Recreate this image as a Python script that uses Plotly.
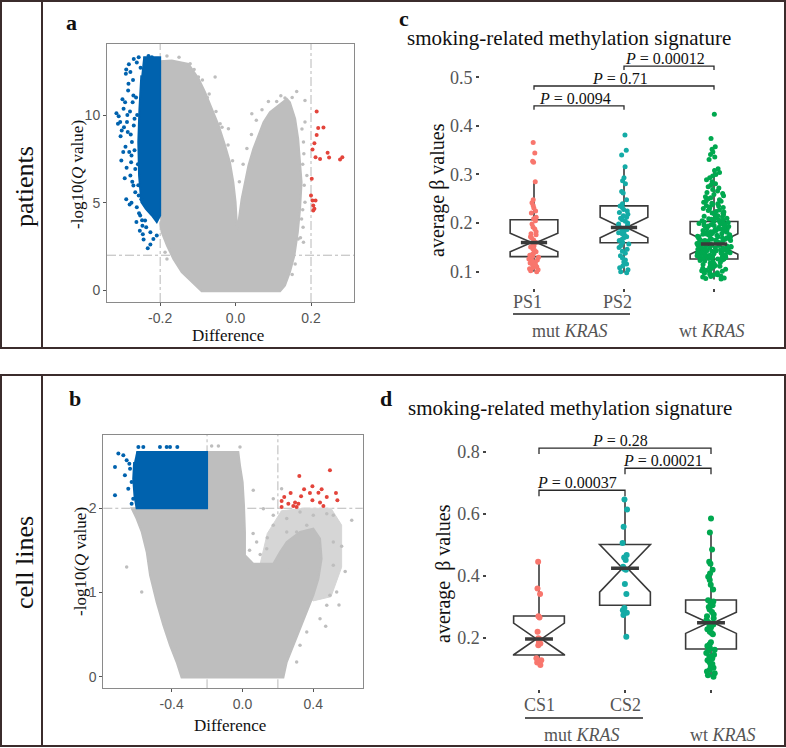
import plotly.graph_objects as go

W, H = 786, 748
def px(x): return x / W
def py(y): return 1 - y / H

SERIF = "Liberation Serif, Times New Roman, serif"
SANS = "Liberation Sans, Arial, sans-serif"

# ---------------- Panel a (patients volcano) ----------------
a_gray_cloud_x = [-0.2, -0.169, -0.125, -0.098, -0.081, -0.063, -0.045, -0.028, -0.015, -0.006, 0.0, 0.004,
                  0.0075, 0.016, 0.025, 0.034, 0.047, 0.060, 0.074, 0.091, 0.113, 0.136, 0.144, 0.158, 0.166,
                  0.171, 0.175, 0.171, 0.165, 0.156, 0.144, 0.131, 0.118, -0.090, -0.116, -0.143, -0.165,
                  -0.182, -0.196, -0.2]
a_gray_cloud_y = [13.07, 13.12, 12.93, 12.08, 11.31, 10.36, 9.41, 8.27, 7.31, 6.17, 5.03, 3.50,
                  3.88, 5.22, 6.17, 7.12, 8.08, 8.84, 9.60, 10.17, 10.55, 10.93, 10.74, 9.79, 8.65,
                  7.50, 6.17, 4.65, 3.31, 1.98, 1.03, 0.27, -0.05, -0.05, 0.46, 1.03, 1.79,
                  2.55, 3.31, 3.88]
a_gray_pts_x = [-0.182, -0.1205, -0.0985, -0.0543, -0.041, -0.019, 0.043, 0.162, 0.184, 0.087, 0.109,
                0.131, 0.184, 0.180, 0.158, -0.187, -0.182, 0.166, 0.175, 0.184, 0.189, 0.180,
                -0.150, -0.110, -0.075, 0.120, 0.150, 0.178, 0.179, 0.150,
                -0.088, -0.070, -0.052, -0.036, -0.020, -0.008, 0.010, 0.020, 0.030, 0.042, 0.055, 0.070,
                0.176, 0.181, 0.182, 0.178, 0.172, -0.125, -0.152, -0.172]
a_gray_pts_y = [13.37, 12.93, 12.17, 12.17, 9.50, 9.22, 10.08, 11.35, 10.84, 10.78, 10.78,
                10.97, 9.60, 2.74, 1.50, 2.17, 1.79, 2.93, 4.07, 5.03, 6.55, 8.46,
                13.3, 12.6, 11.0, 11.1, 11.0, 7.2, 3.6, 0.9,
                12.0, 11.2, 10.2, 9.3, 8.3, 7.4, 6.2, 7.2, 8.1, 8.9, 9.7, 10.3,
                9.2, 7.8, 6.0, 4.6, 3.0, 0.8, 1.6, 2.3]
a_blue_core_x = [-0.245, -0.2, -0.2, -0.209, -0.222, -0.238, -0.250, -0.256, -0.258, -0.255, -0.250]
a_blue_core_y = [13.31, 13.31, 4.27, 3.89, 4.27, 4.65, 5.03, 6.55, 8.46, 10.36, 12.27]
a_blue_pts_x = [-0.310, -0.302, -0.303, -0.284, -0.279, -0.257, -0.231, -0.222, -0.293, -0.288, -0.275,
                -0.282, -0.279, -0.271, -0.257, -0.262, -0.247, -0.226, -0.218, -0.226, -0.209, -0.297,
                -0.271, -0.268, -0.277, -0.266, -0.286, -0.273, -0.306, -0.291, -0.253, -0.240,
                -0.300, -0.296, -0.292, -0.289, -0.285, -0.283, -0.280, -0.278, -0.276, -0.274,
                -0.272, -0.270, -0.268, -0.266, -0.264, -0.262, -0.261, -0.259, -0.258, -0.256,
                -0.254, -0.252, -0.250, -0.248, -0.246, -0.244, -0.237, -0.233, -0.305, -0.298,
                -0.294, -0.290, -0.287, -0.281, -0.276, -0.263, -0.312, -0.316, -0.290, -0.270]
a_blue_pts_y = [9.94, 9.12, 7.41, 11.79, 12.46, 13.31, 13.37, 13.31, 10.74, 9.60, 8.46,
                7.89, 6.55, 5.98, 5.41, 4.74, 3.69, 3.31, 2.93, 2.61, 3.12, 10.36,
                11.12, 9.79, 7.31, 6.93, 9.03, 10.74, 9.60, 12.36, 4.27, 3.98,
                10.9, 9.3, 8.2, 7.0, 11.4, 12.9, 10.2, 8.9, 7.7, 6.2,
                12.0, 9.4, 8.0, 5.6, 11.0, 13.0, 10.0, 7.2, 6.0, 4.4,
                3.4, 12.7, 5.2, 4.0, 3.2, 2.9, 3.6, 2.4, 8.8, 7.9,
                6.4, 5.2, 10.0, 4.9, 5.0, 3.9, 9.5, 10.1, 12.6, 13.2]
a_red_x = [0.215, 0.219, 0.233, 0.215, 0.209, 0.204, 0.212, 0.224, 0.244, 0.248, 0.277, 0.283,
           0.202, 0.200, 0.204, 0.212, 0.206, 0.206, 0.209]
a_red_y = [10.21, 9.26, 9.29, 8.87, 8.40, 8.04, 7.60, 7.50, 7.85, 7.58, 7.47, 7.60,
           6.36, 5.41, 5.12, 5.12, 4.84, 4.55, 4.65]
a_xticks = [-0.2, 0.0, 0.2]
a_xticktext = ["-0.2", "0.0", "0.2"]
a_yticks = [0, 5, 10]

# ---------------- Panel b (cell lines volcano) ----------------
b_gray_cloud_x = [-0.2, -0.0234, -0.014, 0.001, 0.0086, 0.014, 0.014, 0.061, 0.174, 0.212, 0.250, 0.325,
                  0.400, 0.438, 0.447, 0.429, 0.400, 0.363, 0.325, 0.287, 0.250, 0.231, -0.344, -0.372,
                  -0.409, -0.447, -0.485, -0.522, -0.541, -0.569, -0.598, -0.626, -0.2]
b_gray_cloud_y = [2.668, 2.668, 2.510, 2.312, 2.035, 1.718, 1.441, 1.342, 1.342, 1.481, 1.600, 1.718,
                  1.758, 1.639, 1.402, 1.164, 0.966, 0.768, 0.570, 0.372, 0.174, -0.01, -0.01, 0.174,
                  0.372, 0.610, 0.887, 1.204, 1.481, 1.718, 1.877, 2.0, 2.0]
b_gray_sparse_x = [0.10, 0.14, 0.22, 0.35, 0.50, 0.56, 0.56, 0.50, 0.40, 0.20]
b_gray_sparse_y = [1.34, 1.70, 1.97, 2.0, 2.0, 1.80, 1.30, 0.95, 0.90, 1.20]
b_gray_pts_x = [-0.174, -0.136, -0.014, 0.061, 0.174, 0.118, 0.174, 0.250, 0.325, 0.400, 0.476, 0.513,
                0.617, 0.306, 0.080, 0.137, 0.513, 0.532, 0.494, 0.476, 0.250, -0.654, -0.569, 0.438,
                0.363, 0.325, 0.306, -0.372, -0.334, 0.221, 0.174, 0.250, 0.363, 0.513,
                0.040, 0.060, 0.100, 0.140, 0.560, 0.580, 0.545, 0.470]
b_gray_pts_y = [2.740, 2.740, 2.728, 2.213, 2.114, 1.995, 1.916, 1.877, 1.956, 1.916, 1.936, 1.916,
                1.857, 1.718, 1.600, 1.520, 1.322, 1.006, 0.966, 0.847, 1.283, 1.303, 1.006, 0.689,
                0.531, 0.372, 0.174, 0.333, 0.135, 2.233, 1.798, 1.718, 1.798, 1.600,
                1.50, 1.70, 1.45, 1.65, 1.55, 1.25, 0.85, 0.60]
b_blue_core_x = [-0.600, -0.2, -0.2, -0.598, -0.610, -0.617, -0.612]
b_blue_core_y = [2.668, 2.668, 2.0, 2.0, 2.15, 2.35, 2.55]
b_blue_pts_x = [-0.701, -0.720, -0.720, -0.673, -0.654, -0.635, -0.626, -0.645, -0.617, -0.626,
                -0.588, -0.560, -0.466, -0.428, -0.409, -0.368, -0.664, -0.639]
b_blue_pts_y = [2.649, 2.490, 2.154, 2.629, 2.569, 2.470, 2.312, 2.233, 2.114, 2.055,
                2.728, 2.728, 2.728, 2.728, 2.728, 2.728, 2.391, 2.530]
b_red_x = [0.494, 0.321, 0.395, 0.348, 0.447, 0.272, 0.381, 0.429, 0.528, 0.236, 0.331, 0.476,
           0.536, 0.221, 0.395, 0.297, 0.259, 0.316, 0.438, 0.221, 0.287, 0.306, 0.457]
b_red_y = [2.451, 2.383, 2.261, 2.225, 2.225, 2.181, 2.181, 2.185, 2.181, 2.134, 2.142, 2.134,
           2.094, 2.086, 2.094, 2.067, 2.055, 2.055, 2.067, 2.015, 2.027, 2.015, 2.027]
b_xticks = [-0.4, 0.0, 0.4]
b_xticktext = ["-0.4", "0.0", "0.4"]
b_yticks = [0, 1, 2]

diff_threshold = 0.2
q_threshold = 2

# ---------------- Panel c (patients boxplot) ----------------
c_groups = ["PS1", "PS2", "wt"]
c_pos = [1, 2, 3]
c_q1 = [0.131, 0.1596, 0.126]
c_median = [0.160, 0.191, 0.157]
c_q3 = [0.207, 0.2355, 0.2033]
c_lower = [0.100, 0.098, 0.084]
c_upper = [0.285, 0.316, 0.312]
c_notch = [0.019, 0.021, 0.021]
c_ps1 = [0.366, 0.344, 0.327, 0.325, 0.285, 0.248, 0.242, 0.236, 0.231, 0.225, 0.221, 0.212, 0.209,
         0.205, 0.198, 0.192, 0.188, 0.182, 0.178, 0.176, 0.172, 0.170, 0.165, 0.160, 0.157, 0.153,
         0.151, 0.147, 0.144, 0.141, 0.139, 0.136, 0.134, 0.132, 0.130, 0.128, 0.126, 0.124, 0.122,
         0.120, 0.118, 0.116, 0.114, 0.112, 0.110, 0.108, 0.106, 0.104, 0.102, 0.100]
c_ps2 = [0.381, 0.350, 0.340, 0.316, 0.293, 0.287, 0.281, 0.265, 0.262, 0.248, 0.240, 0.235, 0.232,
         0.228, 0.225, 0.222, 0.218, 0.215, 0.212, 0.210, 0.207, 0.204, 0.200, 0.198, 0.195, 0.193,
         0.191, 0.189, 0.187, 0.185, 0.182, 0.180, 0.178, 0.175, 0.172, 0.170, 0.167, 0.164, 0.160,
         0.157, 0.154, 0.150, 0.146, 0.142, 0.138, 0.133, 0.128, 0.124, 0.120, 0.116, 0.112, 0.108,
         0.104, 0.100, 0.098]
c_wt = [0.424, 0.374, 0.357, 0.352, 0.346, 0.341, 0.336, 0.331, 0.312, 0.308, 0.304, 0.300, 0.297,
        0.293, 0.289, 0.285, 0.281, 0.278, 0.275, 0.272, 0.269, 0.266, 0.263, 0.261, 0.259, 0.256,
        0.254, 0.252, 0.250, 0.248, 0.246, 0.245, 0.243, 0.241, 0.240, 0.238, 0.236, 0.235, 0.233,
        0.232, 0.230, 0.229, 0.227, 0.226, 0.224, 0.223, 0.221, 0.220, 0.218, 0.217, 0.215, 0.214,
        0.213, 0.211, 0.210, 0.209, 0.208, 0.207, 0.206, 0.205, 0.204, 0.203, 0.202, 0.201, 0.200,
        0.199, 0.198, 0.197, 0.196, 0.195, 0.194, 0.193, 0.192, 0.191, 0.190, 0.189, 0.188, 0.187,
        0.186, 0.185, 0.184, 0.183, 0.182, 0.181, 0.180, 0.179, 0.178, 0.177, 0.176, 0.175, 0.174,
        0.173, 0.172, 0.171, 0.170, 0.169, 0.168, 0.167, 0.166, 0.165, 0.164, 0.163, 0.162, 0.161,
        0.160, 0.159, 0.158, 0.157, 0.156, 0.155, 0.154, 0.153, 0.152, 0.151, 0.150, 0.149, 0.148,
        0.147, 0.146, 0.145, 0.144, 0.143, 0.142, 0.141, 0.140, 0.139, 0.138, 0.137, 0.136, 0.135,
        0.134, 0.133, 0.132, 0.131, 0.130, 0.129, 0.128, 0.127, 0.126, 0.125, 0.198, 0.193, 0.188,
        0.184, 0.181, 0.178, 0.175, 0.172, 0.169, 0.166, 0.163, 0.161, 0.158, 0.156, 0.153, 0.151,
        0.148, 0.146, 0.143, 0.141, 0.138, 0.136, 0.133, 0.131, 0.128, 0.126, 0.185, 0.177, 0.170,
        0.164, 0.159, 0.154, 0.149, 0.144, 0.139, 0.134, 0.129, 0.124, 0.123, 0.121, 0.119, 0.117,
        0.115, 0.113, 0.111, 0.109, 0.107, 0.105, 0.103, 0.101, 0.099, 0.097, 0.095, 0.093, 0.091,
        0.089, 0.087, 0.085, 0.122, 0.118, 0.114, 0.110, 0.106, 0.102, 0.098, 0.094, 0.090, 0.086]
c_yticks = [0.1, 0.2, 0.3, 0.4, 0.5]
c_pairs = [(1, 2), (1, 3), (2, 3)]
c_bracket_y = [0.441, 0.482, 0.523]
c_p_labels = ["0.0094", "0.71", "0.00012"]

# ---------------- Panel d (cell lines boxplot) ----------------
d_groups = ["CS1", "CS2", "wt"]
d_pos = [1, 2, 3]
d_q1 = [0.145, 0.306, 0.1645]
d_median = [0.197, 0.425, 0.249]
d_q3 = [0.271, 0.502, 0.3226]
d_lower = [0.113, 0.204, 0.075]
d_upper = [0.446, 0.647, 0.541]
d_notch = [0.051, 0.077, 0.034]
d_cs1 = [0.446, 0.360, 0.342, 0.270, 0.266, 0.220, 0.199, 0.196, 0.187, 0.182, 0.177, 0.135,
         0.128, 0.121, 0.113]
d_cs2 = [0.647, 0.615, 0.559, 0.507, 0.468, 0.460, 0.452, 0.430, 0.424, 0.420, 0.374, 0.342,
         0.297, 0.290, 0.282, 0.274, 0.204]
d_wt = [0.586, 0.541, 0.486, 0.446, 0.440, 0.420, 0.408, 0.398, 0.387, 0.372, 0.357, 0.322, 0.318,
        0.313, 0.306, 0.300, 0.292, 0.284, 0.276, 0.270, 0.264, 0.258, 0.252, 0.248, 0.244, 0.240,
        0.234, 0.228, 0.220, 0.216, 0.212, 0.186, 0.180, 0.174, 0.168, 0.162, 0.158, 0.152, 0.146,
        0.140, 0.134, 0.128, 0.122, 0.116, 0.110, 0.104, 0.098, 0.092, 0.086, 0.080, 0.075]
d_yticks = [0.2, 0.4, 0.6, 0.8]
d_pairs = [(1, 2), (2, 3), (1, 3)]
d_bracket_y = [0.677, 0.748, 0.813]
d_p_labels = ["0.00037", "0.00021", "0.28"]

GRAY = "#bebebe"
BLUE = "#0062ae"
RED = "#e3443b"
COLORS = ["#f8766d", "#14aba6", "#00a84f"]
BOXLINE = "#3a3a3a"

fig = go.Figure()

# ---- volcano plots ----
def volcano(xa, ya, cloud_x, cloud_y, gpx, gpy, bcx, bcy, bpx, bpy, rx, ry, sparse=None):
    if sparse is not None:
        fig.add_trace(go.Scatter(x=sparse[0], y=sparse[1], mode="lines", fill="toself",
                                 fillcolor="#d6d6d6", line=dict(color="#d6d6d6", width=1),
                                 xaxis=xa, yaxis=ya, hoverinfo="skip"))
    fig.add_trace(go.Scatter(x=cloud_x, y=cloud_y, mode="lines", fill="toself", fillcolor=GRAY,
                             line=dict(color=GRAY, width=2), xaxis=xa, yaxis=ya, hoverinfo="skip"))
    fig.add_trace(go.Scatter(x=gpx, y=gpy, mode="markers", marker=dict(color=GRAY, size=3.5),
                             xaxis=xa, yaxis=ya))
    fig.add_trace(go.Scatter(x=bcx, y=bcy, mode="lines", fill="toself", fillcolor=BLUE,
                             line=dict(color=BLUE, width=2), xaxis=xa, yaxis=ya, hoverinfo="skip"))
    fig.add_trace(go.Scatter(x=bpx, y=bpy, mode="markers", marker=dict(color=BLUE, size=4),
                             xaxis=xa, yaxis=ya))
    fig.add_trace(go.Scatter(x=rx, y=ry, mode="markers", marker=dict(color=RED, size=4),
                             xaxis=xa, yaxis=ya))

volcano("x", "y", a_gray_cloud_x, a_gray_cloud_y, a_gray_pts_x, a_gray_pts_y,
        a_blue_core_x, a_blue_core_y, a_blue_pts_x, a_blue_pts_y, a_red_x, a_red_y)
volcano("x2", "y2", b_gray_cloud_x, b_gray_cloud_y, b_gray_pts_x, b_gray_pts_y,
        b_blue_core_x, b_blue_core_y, b_blue_pts_x, b_blue_pts_y, b_red_x, b_red_y,
        sparse=(b_gray_sparse_x, b_gray_sparse_y))

# ---- box plots ----
NW = 0.45
def boxpanel(xa, ya, pos, q1, med, q3, lo, hi, notch, samples, width, jitters, msize):
    for i in range(3):
        fig.add_trace(go.Box(x=[pos[i]], q1=[q1[i]], median=[med[i]], q3=[q3[i]],
                             lowerfence=[lo[i]], upperfence=[hi[i]], notchspan=[notch[i]],
                             notched=True, notchwidth=NW, width=width, whiskerwidth=0,
                             fillcolor="rgba(255,255,255,0)", line=dict(color=BOXLINE, width=1.6),
                             boxpoints=False, xaxis=xa, yaxis=ya))
        half = width / 2 * (1 - NW)
        fig.add_trace(go.Scatter(x=[pos[i] - half, pos[i] + half], y=[med[i], med[i]],
                                 mode="lines", line=dict(color=BOXLINE, width=3.5),
                                 xaxis=xa, yaxis=ya))
    for i in range(3):
        vals = samples[i]
        fig.add_trace(go.Box(x=[pos[i]] * len(vals), y=vals, boxpoints="all", jitter=jitters[i],
                             pointpos=0, width=width, fillcolor="rgba(0,0,0,0)",
                             line=dict(color="rgba(0,0,0,0)", width=0), whiskerwidth=0,
                             marker=dict(color=COLORS[i], size=msize, opacity=1),
                             xaxis=xa, yaxis=ya))

boxpanel("x3", "y3", c_pos, c_q1, c_median, c_q3, c_lower, c_upper, c_notch,
         [c_ps1, c_ps2, c_wt], 0.53, [0.22, 0.28, 0.72], 5)
boxpanel("x4", "y4", d_pos, d_q1, d_median, d_q3, d_lower, d_upper, d_notch,
         [d_cs1, d_cs2, d_wt], 0.59, [0.12, 0.12, 0.2], 6)

# significance brackets
def brackets(xa, ya, pairs, ys, labels, drop, xshift):
    for (p0, p1), yb, lab in zip(pairs, ys, labels):
        fig.add_trace(go.Scatter(x=[p0, p0, p1, p1], y=[yb - drop, yb, yb, yb - drop], mode="lines",
                                 line=dict(color="#2a2a2a", width=1.3), xaxis=xa, yaxis=ya))
        fig.add_annotation(x=(p0 + p1) / 2, y=yb, xref=xa, yref=ya, text="<i>P</i> = " + lab,
                           showarrow=False, yanchor="bottom", xshift=xshift, yshift=-3,
                           font=dict(family=SERIF, size=16, color="#111"))

brackets("x3", "y3", c_pairs, c_bracket_y, c_p_labels, 0.008, -4)
brackets("x4", "y4", d_pairs, d_bracket_y, d_p_labels, 0.019, -5)

# ---- axes ----
vol_axis = dict(showgrid=False, zeroline=False, showline=True, mirror=True, linecolor="#8a8a8a",
                linewidth=1, ticks="outside", ticklen=3, tickcolor="#555",
                tickfont=dict(family=SANS, size=14, color="#555"))
box_axis = dict(showgrid=False, zeroline=False, showline=False, ticks="outside", ticklen=3,
                tickwidth=1.5, tickcolor="#444", tickfont=dict(family=SERIF, size=18, color="#555"))

fig.update_layout(
    width=W, height=H, margin=dict(l=0, r=0, t=0, b=0), showlegend=False,
    paper_bgcolor="white", plot_bgcolor="white", boxmode="overlay",
    xaxis=dict(vol_axis, domain=[px(107), px(354)], range=[-0.341, 0.314], anchor="y",
               tickvals=a_xticks, ticktext=a_xticktext),
    yaxis=dict(vol_axis, domain=[py(302), py(44)], range=[-0.67, 14.06], anchor="x",
               tickvals=a_yticks),
    xaxis2=dict(vol_axis, domain=[px(103.3), px(362.7)], range=[-0.786, 0.679], anchor="y2",
                tickvals=b_xticks, ticktext=b_xticktext),
    yaxis2=dict(vol_axis, domain=[py(688.3), py(435)], range=[-0.138, 2.87], anchor="x2",
                tickvals=b_yticks),
    xaxis3=dict(box_axis, domain=[px(480), px(768)], range=[0.4, 3.6], anchor="y3",
                tickvals=c_pos, ticktext=["", "", ""]),
    yaxis3=dict(box_axis, domain=[py(288), py(50)], range=[0.0665, 0.556], anchor="x3",
                tickvals=c_yticks, ticktext=[f"{v:.1f}" for v in c_yticks]),
    xaxis4=dict(box_axis, domain=[px(487.4), px(762.6)], range=[0.4, 3.6], anchor="y4",
                tickvals=d_pos, ticktext=["", "", ""]),
    yaxis4=dict(box_axis, domain=[py(689), py(432)], range=[0.0355, 0.865], anchor="x4",
                tickvals=d_yticks, ticktext=[f"{v:.1f}" for v in d_yticks]),
)

# threshold lines
for xa, ya in [("x", "y"), ("x2", "y2")]:
    for xv in (-diff_threshold, diff_threshold):
        fig.add_shape(type="line", xref=xa, yref=ya + " domain", x0=xv, x1=xv, y0=0, y1=1,
                      line=dict(color="#b8b8b8", width=1, dash="dashdot"), layer="below")
    fig.add_shape(type="line", xref=xa + " domain", yref=ya, x0=0, x1=1, y0=q_threshold,
                  y1=q_threshold, line=dict(color="#b8b8b8", width=1, dash="dashdot"), layer="below")

# text helper
def ann(x, y, text, size, color="#111", angle=0, xref="paper", yref="paper", xshift=0, bold=False):
    if bold:
        text = "<b>" + text + "</b>"
    fig.add_annotation(x=x, y=y, xref=xref, yref=yref, text=text, showarrow=False,
                       textangle=angle, xshift=xshift, xanchor="center", yanchor="middle",
                       font=dict(family=SERIF, size=size, color=color))

for p, g in zip(c_pos[:2], c_groups[:2]):
    ann(p, py(302), g, 18, color="#555", xref="x3", xshift=-7)
for p, g in zip(d_pos[:2], d_groups[:2]):
    ann(p, py(705), g, 18, color="#555", xref="x4")
ann(1.4, py(331), "mut <i>KRAS</i>", 18, color="#555", xref="x3")
ann(2.98, py(331), "wt <i>KRAS</i>", 18, color="#555", xref="x3")
ann(1.5, py(735), "mut <i>KRAS</i>", 18, color="#555", xref="x4")
ann(3.14, py(735), "wt <i>KRAS</i>", 18, color="#555", xref="x4")
fig.add_shape(type="line", xref="x3", yref="paper", x0=0.767, x1=2.067, y0=py(314), y1=py(314),
              line=dict(color="#222", width=1.5))
fig.add_shape(type="line", xref="x4", yref="paper", x0=0.837, x1=2.209, y0=py(718), y1=py(718),
              line=dict(color="#222", width=1.5))

# titles
ann(px(569), py(38), "smoking-related methylation signature", 21)
ann(px(570), py(408), "smoking-related methylation signature", 21)
ann(px(437), py(190), "average β values", 20, angle=-90)
ann(px(443), py(573), "average  β values", 20, angle=-90)
ann(px(228), py(335), "Difference", 17)
ann(px(230), py(725), "Difference", 17)
ann(px(78), py(175), "-log10(<i>Q</i> value)", 17, angle=-90)
ann(px(80), py(562), "-log10(<i>Q</i> value)", 17, angle=-90)

# panel letters
ann(px(71), py(22), "a", 22, bold=True)
ann(px(75), py(398), "b", 22, bold=True)
ann(px(404), py(19), "c", 22, bold=True)
ann(px(386), py(398), "d", 22, bold=True)

# row labels
ann(px(24), py(187), "patients", 26, angle=-90)
ann(px(24), py(563), "cell lines", 26, angle=-90)

# frames
FR = "#3b2c2c"
for (y0, y1) in [(1, 348), (375, 746)]:
    fig.add_shape(type="rect", xref="paper", yref="paper", x0=px(1), x1=px(785), y0=py(y1),
                  y1=py(y0), line=dict(color=FR, width=2))
    fig.add_shape(type="line", xref="paper", yref="paper", x0=px(42), x1=px(42), y0=py(y1),
                  y1=py(y0), line=dict(color=FR, width=2))

fig.write_html("out.html", config={"displayModeBar": False},
               post_script="document.body.style.margin='0px';document.body.style.overflow='hidden';")
